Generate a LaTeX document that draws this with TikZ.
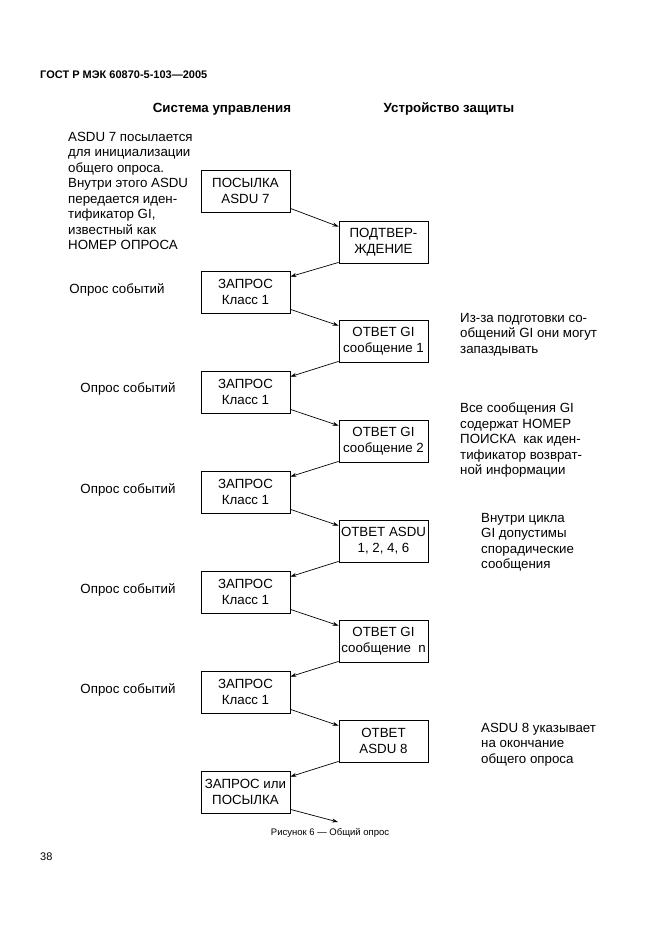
\documentclass[tikz,border=0pt]{standalone}
\usepackage{fontspec}
\setmainfont{Liberation Sans}
\usetikzlibrary{arrows.meta}
\begin{document}
\begin{tikzpicture}[x=1pt,y=-1pt,
  box/.style={draw,line width=0.8pt,minimum width=89pt,minimum height=42pt,align=center,inner sep=1pt,font=\fontsize{13.3}{16}\selectfont},
  ann/.style={align=left,anchor=north west,inner sep=0pt,font=\fontsize{13.3}{15.5}\selectfont},
  lbl/.style={inner sep=0pt,font=\fontsize{13.3}{15}\selectfont},
  arr/.style={-{Stealth[length=6pt,width=4pt]},line width=0.7pt}]
\useasboundingbox (0,0) rectangle (661,936);
\node[anchor=west,inner sep=0pt,font=\bfseries\fontsize{11}{12}\selectfont] (hdr) at (40,75) {ГОСТ Р МЭК 60870-5-103—2005};
\node[lbl,font=\bfseries\fontsize{13.3}{15}\selectfont] (h1) at (222,109) {Система управления};
\node[lbl,font=\bfseries\fontsize{13.3}{15}\selectfont] (h2) at (449,109) {Устройство защиты};
% boxes
\node[box] (L1) at (245.5,191) {ПОСЫЛКА\\ASDU 7};
\node[box] (R1) at (383.5,242) {ПОДТВЕР-\\ЖДЕНИЕ};
\node[box] (L2) at (245.5,292) {ЗАПРОС\\Класс 1};
\node[box] (R2) at (383.5,341) {ОТВЕТ GI\\сообщение 1};
\node[box] (L3) at (245.5,392) {ЗАПРОС\\Класс 1};
\node[box] (R3) at (383.5,441) {ОТВЕТ GI\\сообщение 2};
\node[box] (L4) at (245.5,492) {ЗАПРОС\\Класс 1};
\node[box] (R4) at (383.5,541) {ОТВЕТ ASDU\\1, 2, 4, 6};
\node[box] (L5) at (245.5,592) {ЗАПРОС\\Класс 1};
\node[box] (R5) at (383.5,641) {ОТВЕТ GI\\сообщение~~n};
\node[box] (L6) at (245.5,692) {ЗАПРОС\\Класс 1};
\node[box] (R6) at (383.5,741) {ОТВЕТ\\ASDU 8};
\node[box] (L7) at (245.5,792) {ЗАПРОС или\\ПОСЫЛКА};
\coordinate (end) at (338,822);
% arrows
\foreach \a/\b in {L1/R1,L2/R2,L3/R3,L4/R4,L5/R5,L6/R6}{
  \draw[arr] ([yshift=4pt]\a.south east) -- ([yshift=-6pt]\b.north west);
}
\foreach \a/\b in {R1/L2,R2/L3,R3/L4,R4/L5,R5/L6,R6/L7}{
  \draw[arr] ([yshift=1pt]\a.south west) -- ([yshift=-6pt]\b.north east);
}
\draw[arr] ([yshift=4pt]L7.south east) -- (end);
% annotations
\node[ann] (a1) at (68,132) {ASDU 7 посылается\\для инициализации\\общего опроса.\\Внутри этого ASDU\\передается иден-\\тификатор GI,\\известный как\\НОМЕР ОПРОСА};
\node[lbl] (o1) at (117,290) {Опрос событий};
\node[lbl] (o2) at (128,389) {Опрос событий};
\node[lbl] (o3) at (128,490) {Опрос событий};
\node[lbl] (o4) at (128,590) {Опрос событий};
\node[lbl] (o5) at (128,690) {Опрос событий};
\node[ann] (b1) at (460,313) {Из-за подготовки со-\\общений GI они могут\\запаздывать};
\node[ann] (b2) at (460,403) {Все сообщения GI\\содержат НОМЕР\\ПОИСКА~ как иден-\\тификатор возврат-\\ной информации};
\node[ann] (b3) at (481,513) {Внутри цикла\\GI допустимы\\спорадические\\сообщения};
\node[ann] (b4) at (481,723) {ASDU 8 указывает\\на окончание\\общего опроса};
\node[lbl,font=\fontsize{9.5}{11}\selectfont] (cap) at (330,833) {Рисунок 6 — Общий опрос};
\node[anchor=west,inner sep=0pt,font=\fontsize{11}{13}\selectfont] (pg) at (40,857) {38};
\end{tikzpicture}
\end{document}
